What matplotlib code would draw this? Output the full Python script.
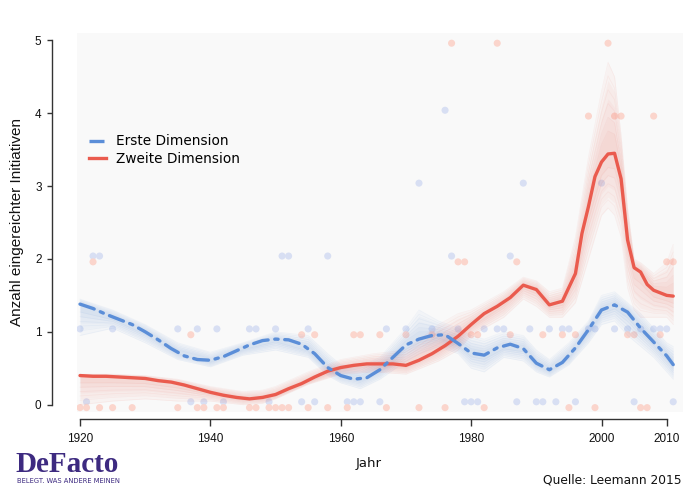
import numpy as np
import matplotlib
matplotlib.use("Agg")
import matplotlib.pyplot as plt
from matplotlib.lines import Line2D

# ---------------- data ----------------
# smoothed main lines
erste_years = [1920, 1922, 1924, 1926, 1928, 1930, 1932, 1934, 1936, 1938, 1940, 1942, 1944,
               1946, 1948, 1950, 1952, 1954, 1956, 1958, 1960, 1962, 1964, 1966, 1968, 1970,
               1972, 1974, 1976, 1978, 1980, 1982, 1984, 1986, 1988, 1990, 1992, 1994, 1996,
               1998, 2000, 2002, 2004, 2006, 2008, 2010, 2011]
erste_vals = [1.38, 1.32, 1.24, 1.17, 1.10, 1.00, 0.89, 0.77, 0.67, 0.62, 0.61, 0.66, 0.74,
              0.82, 0.88, 0.90, 0.89, 0.83, 0.70, 0.51, 0.40, 0.35, 0.37, 0.48, 0.65, 0.82,
              0.90, 0.95, 0.96, 0.84, 0.71, 0.68, 0.78, 0.83, 0.77, 0.57, 0.48, 0.58, 0.78,
              1.03, 1.30, 1.37, 1.27, 1.05, 0.86, 0.67, 0.55]

zweite_years = [1920, 1922, 1924, 1926, 1928, 1930, 1932, 1934, 1936, 1938, 1940, 1942, 1944,
                1946, 1948, 1950, 1952, 1954, 1956, 1958, 1960, 1962, 1964, 1966, 1968, 1970,
                1972, 1974, 1976, 1978, 1980, 1982, 1984, 1986, 1988, 1990, 1992, 1994, 1996,
                1997, 1998, 1999, 2000, 2001, 2002, 2003, 2004, 2005, 2006, 2007, 2008, 2010, 2011]
zweite_vals = [0.40, 0.39, 0.39, 0.38, 0.37, 0.36, 0.33, 0.31, 0.27, 0.22, 0.17, 0.13, 0.10,
               0.08, 0.10, 0.14, 0.22, 0.29, 0.38, 0.46, 0.51, 0.54, 0.56, 0.56, 0.56, 0.54,
               0.61, 0.70, 0.81, 0.94, 1.10, 1.25, 1.35, 1.47, 1.64, 1.58, 1.37, 1.42, 1.80,
               2.35, 2.72, 3.13, 3.33, 3.44, 3.45, 3.10, 2.26, 1.88, 1.82, 1.65, 1.57, 1.50, 1.49]

# envelope of the bootstrap curves
erste_band_years = [1920, 1925, 1930, 1935, 1940, 1945, 1950, 1955, 1958, 1960, 1963, 1966, 1970,
                    1972, 1975, 1978, 1980, 1982, 1985, 1988, 1990, 1992, 1995, 1998, 2000, 2002,
                    2004, 2006, 2008, 2010, 2011]
erste_lo = [0.95, 1.05, 0.85, 0.62, 0.52, 0.68, 0.75, 0.65, 0.40, 0.30, 0.22, 0.35, 0.60,
            0.70, 0.80, 0.70, 0.50, 0.45, 0.65, 0.60, 0.45, 0.38, 0.55, 0.85, 1.10, 1.15,
            0.95, 0.80, 0.65, 0.45, 0.35]
erste_hi = [1.45, 1.30, 1.10, 0.85, 0.72, 0.85, 1.00, 0.95, 0.70, 0.55, 0.52, 0.65, 1.05,
            1.30, 1.15, 1.05, 0.95, 0.90, 1.00, 0.95, 0.75, 0.62, 0.85, 1.15, 1.50, 1.55,
            1.40, 1.25, 1.05, 0.85, 0.80]

zweite_band_years = [1920, 1925, 1930, 1935, 1940, 1945, 1948, 1950, 1955, 1960, 1965, 1970, 1975,
                     1978, 1980, 1985, 1988, 1990, 1992, 1994, 1996, 1998, 2000, 2001, 2002, 2003,
                     2004, 2005, 2006, 2008, 2010, 2011]
zweite_lo = [0.00, 0.05, 0.08, 0.05, 0.05, 0.00, 0.02, 0.08, 0.28, 0.42, 0.45, 0.42, 0.60,
             0.75, 0.95, 1.20, 1.45, 1.35, 1.20, 1.20, 1.40, 2.00, 2.60, 2.70, 2.60, 2.30,
             1.60, 1.30, 1.20, 1.20, 1.20, 1.10]
zweite_hi = [0.42, 0.42, 0.40, 0.35, 0.25, 0.18, 0.20, 0.25, 0.45, 0.62, 0.70, 0.75, 1.10,
             1.25, 1.30, 1.55, 1.75, 1.70, 1.55, 1.60, 2.30, 3.40, 4.30, 4.70, 4.50, 3.70,
             2.70, 2.00, 1.95, 1.80, 1.95, 2.20]

# observed counts per year
erste_obs = {
    0: [1921, 1937, 1939, 1942, 1949, 1954, 1956, 1961, 1962, 1963, 1966, 1979, 1980, 1981,
        1987, 1990, 1991, 1993, 1996, 2005, 2011],
    1: [1920, 1925, 1935, 1938, 1941, 1946, 1947, 1950, 1955, 1967, 1970, 1974, 1978, 1982,
        1984, 1985, 1989, 1992, 1994, 1995, 1998, 1999, 2002, 2004, 2006, 2008, 2009, 2010],
    2: [1922, 1923, 1951, 1952, 1958, 1977, 1986],
    3: [1972, 1988, 2000],
    4: [1976],
}
zweite_obs = {
    0: [1920, 1921, 1923, 1925, 1928, 1935, 1938, 1939, 1941, 1942, 1946, 1947, 1949, 1950,
        1951, 1952, 1955, 1958, 1961, 1967, 1972, 1976, 1982, 1995, 1999, 2006, 2007],
    1: [1937, 1954, 1956, 1962, 1963, 1966, 1970, 1974, 1980, 1981, 1986, 1991, 1994, 1996,
        2004, 2005, 2009],
    2: [1922, 1978, 1979, 1987, 2010, 2011],
    4: [1998, 2002, 2003, 2008],
    5: [1977, 1984, 2001],
}

series_labels = ["Erste Dimension", "Zweite Dimension"]
x_ticks = [1920, 1940, 1960, 1980, 2000, 2010]
y_ticks = [0, 1, 2, 3, 4, 5]

# ---------------- style ----------------
BLUE = "#5b8ed8"
RED = "#ea5b4e"
BLUE_DOT = "#d8dff3"
RED_DOT = "#fbd5cc"
PURPLE = "#3d2a80"
DASH = (4.5, 2.0, 1.0, 2.0)

fig = plt.figure(figsize=(7, 5), dpi=100)
ax = fig.add_axes([77 / 700, 1 - 412 / 500, (683 - 77) / 700, (412 - 33) / 500])
ax.set_facecolor("#f9f9f9")
ax.set_xlim(1919.54, 2012.5)
ax.set_ylim(-0.1, 5.1)

# scatter of observations (slight vertical offset as in the original)
for k, yrs in erste_obs.items():
    ax.scatter(yrs, [k + 0.04] * len(yrs), s=26, color=BLUE_DOT, edgecolor="none", zorder=1)
for k, yrs in zweite_obs.items():
    ax.scatter(yrs, [k - 0.04] * len(yrs), s=26, color=RED_DOT, edgecolor="none", zorder=1)


# bootstrap-like bundles: nested soft layers from envelope towards the main line
def bundle(yrs, lo, hi, main_years, main_vals, col):
    lo = np.asarray(lo)
    hi = np.asarray(hi)
    mid = np.interp(yrs, main_years, main_vals)
    for f in [1.0, 0.8, 0.6, 0.4, 0.25]:
        ax.fill_between(yrs, mid + f * (lo - mid), mid + f * (hi - mid),
                        color=col, alpha=0.045, lw=0, zorder=2)
    for f in [1.0, 0.85, 0.7, 0.55, 0.4, 0.25]:
        ax.plot(yrs, mid + f * (lo - mid), color=col, alpha=0.07, lw=0.5, zorder=2)
        ax.plot(yrs, mid + f * (hi - mid), color=col, alpha=0.07, lw=0.5, zorder=2)


bundle(erste_band_years, erste_lo, erste_hi, erste_years, erste_vals, BLUE)
bundle(zweite_band_years, zweite_lo, zweite_hi, zweite_years, zweite_vals, RED)

# main lines
ax.plot(zweite_years, zweite_vals, color=RED, lw=2.4, zorder=4, solid_capstyle="round")
ax.plot(erste_years, erste_vals, color=BLUE, lw=2.4, zorder=5,
        dashes=DASH, dash_capstyle="round")

# axes styling
for s in ["top", "right"]:
    ax.spines[s].set_visible(False)
ax.spines["left"].set_position(("outward", 18))
ax.spines["left"].set_bounds(0, 5)
ax.spines["bottom"].set_position(("outward", 5))
ax.spines["bottom"].set_bounds(1920, 2010)
for s in ["left", "bottom"]:
    ax.spines[s].set_color("#333333")
    ax.spines[s].set_linewidth(1.0)

ax.set_xticks(x_ticks)
ax.set_yticks(y_ticks)
ax.set_xticklabels([str(t) for t in x_ticks], family="Liberation Sans", fontsize=8.5)
ax.set_yticklabels([str(t) for t in y_ticks], family="Liberation Sans", fontsize=8.5)
ax.tick_params(axis="x", length=5, width=1, color="#333333", pad=5, labelcolor="#111111")
ax.tick_params(axis="y", length=3.5, width=1, color="#333333", pad=4, labelcolor="#111111")

fig.text(17 / 700, 1 - 222 / 500, "Anzahl eingereichter Initiativen", rotation=90,
         ha="center", va="center", family="Liberation Sans", fontsize=11, color="#111111")
fig.text(369 / 700, 1 - 463 / 500, "Jahr", ha="center", va="center",
         family="DejaVu Sans", fontsize=9.5, color="#111111")

# legend
handles = [Line2D([0], [0], color=BLUE, lw=2.4, dashes=DASH),
           Line2D([0], [0], color=RED, lw=2.4)]
ax.legend(handles, series_labels, loc="upper left", bbox_to_anchor=(0.0, 0.765),
          frameon=False, prop={"family": "DejaVu Sans", "size": 9.8},
          handlelength=1.25, handletextpad=0.75, labelspacing=0.28)

# source and logo
fig.text(682 / 700, 1 - 480 / 500, "Quelle: Leemann 2015", ha="right", va="center",
         family="DejaVu Sans", fontsize=8.8, color="#111111")
fig.text(15 / 700, 1 - 464 / 500, "DeFacto", ha="left", va="center",
         family="Liberation Serif", fontweight="bold", fontsize=21, color=PURPLE)
fig.text(17 / 700, 1 - 481 / 500, "BELEGT. WAS ANDERE MEINEN", ha="left", va="center",
         family="DejaVu Sans", fontsize=4.9, color=PURPLE)

fig.savefig("out.png", dpi=100)
